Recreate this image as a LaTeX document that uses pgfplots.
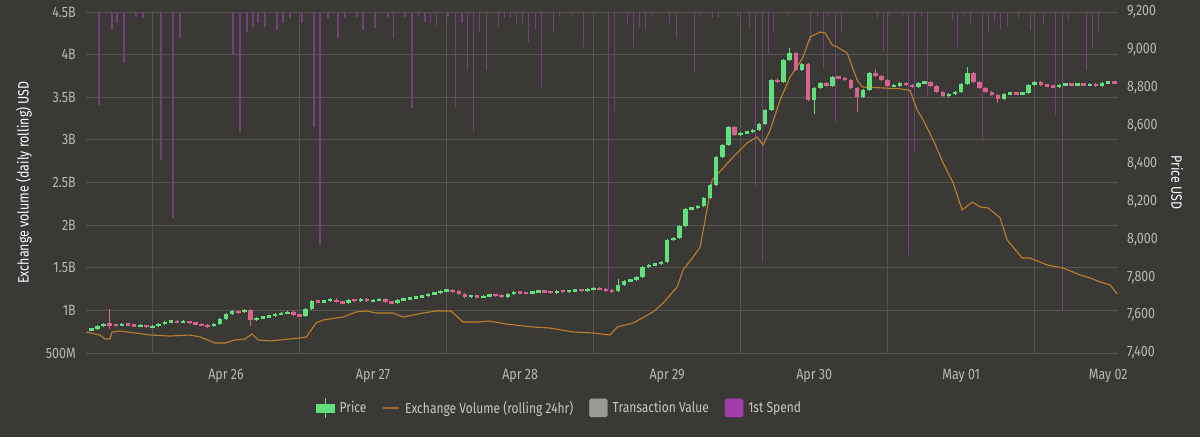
\documentclass[border=0pt]{standalone}
\usepackage{fontspec}
\setmainfont{Fira Sans}[FakeStretch=0.83]
\usepackage{pgfplots}
\usepackage{pgfplotstable}
\pgfplotsset{compat=1.18}
\definecolor{bg}{HTML}{3B3935}
\definecolor{gridc}{HTML}{575550}
\definecolor{tickc}{HTML}{BAB8B3}
\definecolor{legc}{HTML}{C9C7C2}
\definecolor{cgreen}{HTML}{62E07E}
\definecolor{cpink}{HTML}{D9638F}
\definecolor{corange}{HTML}{BC7F2E}
\definecolor{cpurple}{HTML}{74407A}
\definecolor{lpurple}{HTML}{A33BA8}
\definecolor{lgray}{HTML}{9B9A97}

\pgfplotstableread{
h o c hi lo
-22 7520 7527 7533 7514
-21 7527 7542 7548 7522
-20 7542 7553 7560 7537
-19 7553 7548 7632 7527
-18 7548 7545 7555 7538
-17 7545 7553 7559 7540
-16 7553 7548 7558 7542
-15 7548 7543 7553 7537
-14 7543 7545 7551 7537
-13 7545 7537 7550 7531
-12 7537 7540 7546 7531
-11 7540 7553 7558 7535
-10 7553 7564 7570 7548
-9 7564 7569 7575 7558
-8 7569 7562 7574 7556
-7 7562 7566 7572 7556
-6 7566 7558 7571 7552
-5 7558 7553 7563 7547
-4 7553 7546 7558 7540
-3 7546 7540 7551 7534
-2 7540 7553 7559 7535
-1 7553 7579 7585 7548
0 7579 7606 7612 7574
1 7606 7622 7628 7600
2 7622 7614 7628 7608
3 7614 7627 7633 7609
4 7627 7574 7632 7545
5 7574 7585 7591 7568
6 7585 7590 7596 7579
7 7590 7596 7602 7584
8 7596 7604 7610 7590
9 7604 7611 7617 7598
10 7611 7614 7620 7605
11 7614 7602 7620 7596
12 7602 7595 7608 7589
13 7595 7632 7638 7589
14 7632 7674 7680 7626
15 7674 7669 7680 7663
16 7669 7676 7682 7663
17 7676 7682 7688 7670
18 7682 7669 7688 7663
19 7669 7664 7675 7658
20 7664 7680 7686 7658
21 7680 7676 7686 7670
22 7676 7682 7688 7670
23 7682 7674 7688 7668
24 7674 7678 7684 7668
25 7678 7684 7690 7672
26 7684 7669 7690 7663
27 7669 7664 7675 7658
28 7664 7680 7686 7658
29 7680 7685 7691 7674
30 7685 7690 7696 7679
31 7690 7696 7702 7684
32 7696 7701 7707 7690
33 7701 7711 7717 7695
34 7711 7717 7723 7705
35 7717 7727 7733 7711
36 7727 7733 7739 7721
37 7733 7725 7739 7719
38 7725 7711 7731 7705
39 7711 7696 7717 7690
40 7696 7702 7708 7690
41 7702 7694 7708 7688
42 7694 7701 7707 7688
43 7701 7706 7712 7695
44 7706 7703 7712 7697
45 7703 7698 7709 7692
46 7698 7711 7717 7692
47 7711 7722 7728 7705
48 7722 7718 7728 7712
49 7718 7716 7724 7710
50 7716 7722 7728 7710
51 7722 7727 7733 7716
52 7727 7723 7733 7717
53 7723 7719 7729 7713
54 7719 7727 7733 7713
55 7727 7724 7733 7718
56 7724 7728 7734 7718
57 7728 7733 7739 7722
58 7733 7730 7739 7724
59 7730 7738 7744 7724
60 7738 7740 7746 7732
61 7740 7736 7746 7730
62 7736 7730 7742 7724
63 7730 7727 7736 7719
64 7727 7759 7790 7721
65 7759 7780 7786 7753
66 7780 7785 7791 7774
67 7785 7801 7807 7779
68 7801 7854 7860 7795
69 7854 7864 7870 7848
70 7864 7870 7876 7858
71 7870 7880 7886 7864
72 7880 7996 8002 7874
73 7996 8007 8013 7990
74 8007 8070 8076 8001
75 8070 8160 8166 8064
76 8160 8165 8171 8154
77 8165 8176 8182 8159
78 8176 8218 8224 8170
79 8218 8287 8293 8212
80 8287 8435 8441 8281
81 8435 8498 8504 8429
82 8498 8593 8599 8492
83 8593 8551 8599 8545
84 8551 8561 8567 8545
85 8561 8567 8573 8555
86 8567 8577 8583 8561
87 8577 8609 8615 8571
88 8609 8683 8689 8603
89 8683 8841 8847 8677
90 8841 8830 8850 8824
91 8830 8947 8953 8824
92 8947 8984 9010 8941
93 8984 8894 8990 8888
94 8894 8925 8931 8888
95 8925 8735 8931 8729
96 8735 8799 8805 8660
97 8799 8825 8831 8793
98 8825 8809 8831 8803
99 8809 8857 8863 8803
100 8857 8851 8863 8845
101 8851 8841 8857 8835
102 8841 8799 8847 8793
103 8799 8751 8805 8672
104 8751 8788 8794 8745
105 8788 8878 8884 8782
106 8878 8862 8900 8856
107 8862 8841 8868 8835
108 8841 8809 8847 8803
109 8809 8812 8818 8803
110 8812 8825 8831 8806
111 8825 8815 8831 8809
112 8815 8804 8821 8798
113 8804 8825 8831 8798
114 8825 8830 8836 8819
115 8830 8809 8836 8803
116 8809 8778 8815 8772
117 8778 8757 8784 8751
118 8757 8767 8773 8751
119 8767 8778 8784 8761
120 8778 8820 8826 8772
121 8820 8878 8910 8814
122 8878 8830 8884 8824
123 8830 8799 8836 8793
124 8799 8778 8805 8772
125 8778 8762 8784 8756
126 8762 8741 8768 8720
127 8741 8767 8773 8735
128 8767 8772 8778 8761
129 8772 8767 8778 8761
130 8767 8772 8778 8761
131 8772 8815 8821 8766
132 8815 8830 8836 8809
133 8830 8815 8836 8809
134 8815 8809 8821 8803
135 8809 8804 8815 8798
136 8804 8815 8821 8798
137 8815 8820 8826 8809
138 8820 8815 8826 8809
139 8815 8820 8826 8809
140 8820 8815 8826 8809
141 8815 8818 8824 8809
142 8818 8809 8824 8803
143 8809 8825 8831 8803
144 8825 8830 8836 8819
145 8830 8825 8836 8819
}\candles

\pgfplotstableread{
h v
-22.86 0.746
-20.57 0.711
-19.76 0.664
-18.94 0.664
-18.61 0.746
-17.31 0.758
-12.41 0.711
-9.14 0.699
-5.88 0.711
-4.24 0.688
-1.80 0.617
-0.16 0.617
1.47 0.653
3.10 0.664
4.24 0.723
5.22 0.653
7.18 0.641
12.00 0.676
13.10 0.688
14.69 0.852
15.84 0.887
19.10 0.922
21.22 0.981
22.86 0.993
24.49 0.969
27.27 0.969
28.90 0.922
32.16 0.969
34.29 0.993
36.73 0.993
38.69 0.864
41.31 0.864
42.94 0.875
45.71 0.840
50.12 0.805
52.90 0.793
56.65 0.746
59.92 0.735
62.69 0.711
63.84 0.805
66.45 0.852
69.71 0.981
71.35 1.087
73.63 1.274
74.61 1.474
76.24 1.626
77.39 1.743
78.20 2.060
79.35 2.529
82.78 2.799
85.06 2.963
86.69 3.034
87.67 2.940
88.82 3.116
90.45 3.468
92.08 3.738
93.71 3.914
94.20 3.972
95.35 4.207
96.98 4.265
97.80 4.254
98.94 4.113
99.76 4.090
101.39 4.019
103.02 3.702
103.84 3.620
110.00 3.600
111.67 3.580
112.82 3.350
113.80 3.233
115.43 2.999
117.06 2.729
118.69 2.494
120.16 2.177
121.80 2.271
123.10 2.213
124.41 2.201
126.37 2.084
127.51 1.826
129.96 1.614
131.27 1.614
134.04 1.532
136.65 1.497
139.43 1.415
141.06 1.380
142.69 1.333
144.33 1.298
145.47 1.192
}\volume

\pgfplotstableread{
h d
-20.73 93
-18.61 18
-17.80 11
-16.65 51
-14.69 5
-13.55 6
-10.61 148
-8.65 206
-7.51 26
1.14 43
2.29 120
3.43 20
4.41 15
5.22 11
6.37 15
8.33 18
9.31 11
10.45 6
12.41 11
14.37 115
15.35 233
16.65 6
18.29 26
19.43 6
21.39 5
22.37 18
24.33 16
26.45 5
27.27 26
29.22 5
30.37 96
31.35 5
32.49 10
33.31 11
34.29 15
36.24 5
37.39 95
38.53 11
39.35 58
40.33 120
41.31 20
42.45 58
44.41 15
45.39 6
46.37 5
47.35 11
48.33 13
49.31 30
50.45 18
51.43 75
53.39 20
54.37 5
56.49 5
58.29 35
62.37 278
63.35 100
65.47 11
66.45 35
67.43 15
68.41 18
69.39 5
72.33 11
73.47 26
76.41 61
77.39 5
79.35 6
80.33 5
83.43 5
85.39 16
86.37 175
87.51 250
88.49 43
89.31 20
91.59 5
95.35 31
96.49 5
97.47 56
98.29 5
99.43 110
100.41 20
106.29 6
107.27 40
108.24 5
110.37 5
111.35 243
112.33 141
113.47 5
114.45 85
118.53 8
119.35 35
120.33 5
121.47 13
123.43 128
124.41 20
125.39 10
126.37 18
127.51 15
129.31 6
131.27 18
133.39 13
135.35 103
136.49 298
137.47 8
140.41 58
141.39 36
142.37 20
}\spend

\begin{document}
\begin{tikzpicture}[x=1pt,y=1pt]
\fill[bg] (0,0) rectangle (1200,437);
\pgfplotsset{
  mybase/.style={scale only axis, width=1032pt, height=341pt,
    at={(86pt,84pt)}, anchor=south west,
    xmin=-22.86, xmax=145.6, axis line style={draw=none},
    major tick length=0pt, minor tick length=0pt,
    tick label style={font=\fontsize{15}{18}\selectfont, text=tickc}},
  candle/.style n args={2}{forget plot, draw=none, mark=none,
    restrict y to domain=7000:10000, unbounded coords=discard,
    error bars/.cd, y dir=both, y explicit, error mark=none,
    error bar style={draw=#1, line width=#2}},
}
% grid, left labels, x labels
\begin{axis}[mybase, ymin=0.5, ymax=4.5,
  ytick={0.5,1,1.5,2,2.5,3,3.5,4,4.5},
  yticklabels={500M,1B,1.5B,2B,2.5B,3B,3.5B,4B,4.5B},
  ymajorgrids, grid style={draw=gridc, line width=0.9pt},
  xtick={0,24,48,72,96,120,144},
  xticklabels={Apr 26,Apr 27,Apr 28,Apr 29,Apr 30,May 01,May 02},
  extra x ticks={-12,12,36,60,84,108,132}, extra x tick labels={},
  extra x tick style={grid=major},
  yticklabel style={anchor=east, inner sep=0pt, xshift=-10pt},
  xticklabel style={anchor=base, inner sep=0pt, yshift=-26pt},
  ylabel={Exchange volume (daily rolling) USD},
  every axis y label/.style={at={(axis description cs:-0.0601,0.5)}, rotate=90, anchor=center,
     font=\fontsize{15}{18}\selectfont, text=white},
]
\end{axis}
% 1st spend bars hanging from the top
\begin{axis}[mybase, hide axis, y dir=reverse, ymin=0, ymax=341]
\addplot[ycomb, draw=cpurple, line width=1.2pt, mark=none] table[x=h,y=d]{\spend};
\end{axis}
% exchange volume line
\begin{axis}[mybase, hide axis, ymin=0.5, ymax=4.5]
\addplot[corange, line width=1.1pt, mark=none] table[x=h,y=v]{\volume};
\end{axis}
% price candles, right axis, legend
\begin{axis}[mybase, ymin=7400, ymax=9200, hide x axis, axis y line*=right,
  ytick={7400,7600,7800,8000,8200,8400,8600,8800,9000,9200},
  yticklabels={{7,400},{7,600},{7,800},{8,000},{8,200},{8,400},{8,600},{8,800},{9,000},{9,200}},
  yticklabel style={anchor=west, inner sep=0pt, xshift=9pt},
  ylabel={Price USD},
  every axis y label/.style={at={(axis description cs:1.0572,0.5)}, rotate=-90, anchor=center,
     font=\fontsize{15}{18}\selectfont, text=white},
  legend columns=4,
  legend style={at={(0.459,-0.161)}, anchor=center, draw=none, fill=none,
    text=legc, font=\fontsize{14.5}{17}\selectfont,
    /tikz/every odd column/.append style={column sep=3pt},
    /tikz/every even column/.append style={column sep=14pt}},
]
\addlegendimage{legend image code/.code={\fill[cgreen] (0pt,-4pt) rectangle (18pt,4pt);
   \draw[cgreen, line width=1pt] (9pt,-10pt) -- (9pt,10pt);}}
\addlegendentry{Price}
\addlegendimage{legend image code/.code={\draw[corange!75!bg, line width=1.6pt] (1pt,0pt) -- (17pt,0pt);}}
\addlegendentry{Exchange Volume (rolling 24hr)}
\addlegendimage{legend image code/.code={\fill[lgray, rounded corners=1.5pt] (0pt,-9pt) rectangle (18pt,9pt);}}
\addlegendentry{Transaction Value}
\addlegendimage{legend image code/.code={\fill[lpurple, rounded corners=1.5pt] (0pt,-9pt) rectangle (18pt,9pt);}}
\addlegendentry{1st Spend}
% green wicks and bodies
\addplot[candle={cgreen}{1pt}]
  table[x=h, y expr={\thisrow{c}<\thisrow{o} ? 0 : 0.5*(\thisrow{hi}+\thisrow{lo})},
        y error expr={0.5*(\thisrow{hi}-\thisrow{lo})}]{\candles};
\addplot[candle={cgreen}{4.5pt}]
  table[x=h, y expr={\thisrow{c}<\thisrow{o} ? 0 : 0.5*(\thisrow{o}+\thisrow{c})},
        y error expr={max(0.5*abs(\thisrow{c}-\thisrow{o}),6)}]{\candles};
% pink wicks and bodies
\addplot[candle={cpink}{1pt}]
  table[x=h, y expr={\thisrow{c}<\thisrow{o} ? 0.5*(\thisrow{hi}+\thisrow{lo}) : 0},
        y error expr={0.5*(\thisrow{hi}-\thisrow{lo})}]{\candles};
\addplot[candle={cpink}{4.5pt}]
  table[x=h, y expr={\thisrow{c}<\thisrow{o} ? 0.5*(\thisrow{o}+\thisrow{c}) : 0},
        y error expr={max(0.5*abs(\thisrow{c}-\thisrow{o}),6)}]{\candles};
\end{axis}
\pgfresetboundingbox
\useasboundingbox (0,0) rectangle (1200,437);
\end{tikzpicture}
\end{document}
